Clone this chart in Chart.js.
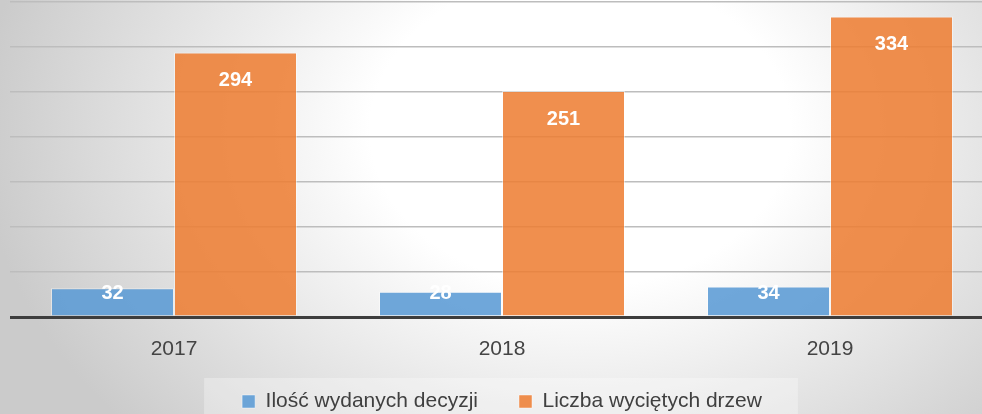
<!DOCTYPE html>
<html lang="pl">
<head>
    <meta charset="UTF-8">
    <title>Decyzje i wycięte drzewa 2017-2019</title>
    <script src="https://cdn.jsdelivr.net/npm/chart.js"></script>
    <style>
        html, body { margin: 0; padding: 0; overflow: hidden; background: #e4e4e4; }
        #treesChart { display: block; }
    </style>
</head>
<body>
    <canvas id="treesChart" width="1004" height="422"></canvas>

    <script>
        // Data
        const years = ['2017', '2018', '2019'];
        const decisions = [32, 28, 34];
        const treesCut = [294, 251, 334];
        const seriesNames = ['Ilość wydanych decyzji', 'Liczba wyciętych drzew'];
        const yMax = 350;
        const yStep = 50;

        const fontFamily = '"Liberation Sans", Arial, sans-serif';

        // Grey/white backdrop plus the light panel behind the legend
        const backdrop = {
            id: 'backdrop',
            beforeDraw(chart) {
                const { ctx, height } = chart;

                // x labels sit partly over the legend band, so don't clip them to the short axis box
                chart.scales.x.bottom = height;

                ctx.save();
                ctx.translate(580, 130);
                ctx.scale(1, 0.75);
                const g = ctx.createRadialGradient(0, 0, 0, 0, 0, 600);
                g.addColorStop(0, '#ffffff');
                g.addColorStop(0.35, '#ffffff');
                g.addColorStop(1, '#cbcbcb');
                ctx.fillStyle = g;
                ctx.fillRect(-2000, -2000, 4000, 4000);
                ctx.restore();

                const boxes = chart.legend && chart.legend.legendHitBoxes;
                if (boxes && boxes.length) {
                    const last = boxes[boxes.length - 1];
                    const left = boxes[0].left - 38;
                    const right = last.left + last.width + 36;
                    const top = boxes[0].top - 13;
                    ctx.save();
                    ctx.fillStyle = 'rgba(255, 255, 255, 0.3)';
                    ctx.fillRect(left, top, right - left, height - top);
                    ctx.restore();
                }
            }
        };

        // White value labels at the inside end of every bar
        const barLabels = {
            id: 'barLabels',
            afterDatasetsDraw(chart) {
                const { ctx, chartArea } = chart;
                ctx.save();
                ctx.font = 'bold 20px ' + fontFamily;
                ctx.fillStyle = '#ffffff';
                ctx.textAlign = 'center';
                ctx.textBaseline = 'middle';
                chart.data.datasets.forEach((ds, i) => {
                    chart.getDatasetMeta(i).data.forEach((bar, j) => {
                        const y = Math.min(bar.y + 28, chartArea.bottom - 24);
                        ctx.fillText(ds.data[j], bar.x, y);
                    });
                });
                ctx.restore();
            }
        };

        const ctx = document.getElementById('treesChart').getContext('2d');
        new Chart(ctx, {
            type: 'bar',
            data: {
                labels: years,
                datasets: [{
                    label: seriesNames[0],
                    data: decisions,
                    backgroundColor: 'rgba(91, 155, 213, 0.88)',
                    borderColor: 'rgba(255, 255, 255, 0.45)',
                    borderWidth: 1,
                    categoryPercentage: 0.75,
                    barPercentage: 1
                },
                {
                    label: seriesNames[1],
                    data: treesCut,
                    backgroundColor: 'rgba(237, 125, 49, 0.86)',
                    borderColor: 'rgba(255, 255, 255, 0.45)',
                    borderWidth: 1,
                    categoryPercentage: 0.75,
                    barPercentage: 1
                }]
            },
            options: {
                responsive: false,
                animation: false,
                layout: {
                    padding: { left: 10, right: 10, top: 2, bottom: 0 }
                },
                plugins: {
                    tooltip: { enabled: false },
                    legend: {
                        position: 'bottom',
                        labels: {
                            color: '#404040',
                            boxWidth: 13,
                            boxHeight: 13,
                            padding: 41,
                            font: { family: fontFamily, size: 21 }
                        }
                    }
                },
                scales: {
                    x: {
                        grid: { display: false },
                        border: { display: false },
                        ticks: {
                            color: '#444444',
                            padding: 12,
                            font: { family: fontFamily, size: 21 }
                        },
                        afterFit(scale) {
                            scale.height = 33;
                        }
                    },
                    y: {
                        min: 0,
                        max: yMax,
                        ticks: { display: false, stepSize: yStep },
                        border: { display: false },
                        grid: {
                            drawTicks: false,
                            color: c => c.tick.value === 0 ? '#3d3d3d' : '#bdbdbd',
                            lineWidth: c => c.tick.value === 0 ? 3 : 1.5
                        }
                    }
                }
            },
            plugins: [backdrop, barLabels]
        });
    </script>
</body>
</html>
